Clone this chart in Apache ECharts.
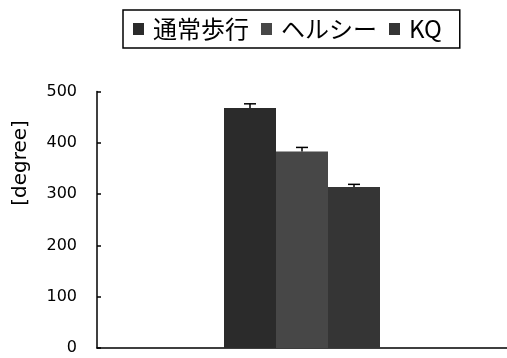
<!DOCTYPE html>
<html>
<head>
<meta charset="utf-8">
<script src="https://cdn.jsdelivr.net/npm/echarts@6/dist/echarts.min.js"></script>
<style>
html,body{margin:0;padding:0;background:#fff;}
#chart{width:507px;height:358px;}
</style>
</head>
<body>
<div id="chart"></div>
<script>
// Walking-mode comparison: mean angle with error bars
const categories = [''];
const seriesNames = ['通常歩行', 'ヘルシー', 'KQ'];
const meanValues = [468, 383, 314];
const errorValues = [8, 8, 5];
const yTicks = [0, 100, 200, 300, 400, 500];
const yName = '[degree]';

const colors = ['#2b2b2b', '#474747', '#353535'];
const BAR_W = 52;

const chart = echarts.init(document.getElementById('chart'));

const barSeries = seriesNames.map((name, i) => ({
  name: name,
  type: 'bar',
  data: [meanValues[i]],
  barWidth: BAR_W,
  barGap: '0%',
  itemStyle: { color: colors[i] },
  silent: true
}));

const errorData = seriesNames.map((_, i) => [0, meanValues[i], errorValues[i], i]);

const errorSeries = {
  type: 'custom',
  data: errorData,
  z: 5,
  silent: true,
  renderItem: function (params, api) {
    const idx = api.value(3);
    const base = api.coord([api.value(0), api.value(1)]);
    const top = api.coord([api.value(0), api.value(1) + api.value(2)]);
    const x = base[0] + (idx - (seriesNames.length - 1) / 2) * BAR_W;
    const capHalf = 6;
    return {
      type: 'group',
      children: [
        { type: 'line', shape: { x1: x, y1: base[1], x2: x, y2: top[1] }, style: { stroke: '#000', lineWidth: 1.5 } },
        { type: 'line', shape: { x1: x - capHalf, y1: top[1], x2: x + capHalf, y2: top[1] }, style: { stroke: '#000', lineWidth: 1.5 } }
      ]
    };
  }
};

chart.setOption({
  animation: false,
  backgroundColor: '#fff',
  grid: { left: 97, right: -4, top: 91.5, bottom: 10 },
  legend: {
    data: seriesNames,
    left: 123,
    top: 10,
    padding: [7, 18, 7, 10],
    itemGap: 12,
    itemWidth: 11,
    itemHeight: 12,
    borderColor: '#000',
    borderWidth: 1.5,
    selectedMode: false,
    icon: 'rect',
    textStyle: {
      fontFamily: 'Noto Sans CJK JP',
      fontSize: 24,
      color: '#000',
      padding: [0, 0, 0, 4]
    }
  },
  xAxis: {
    type: 'category',
    data: categories,
    axisLine: { lineStyle: { color: '#000', width: 1.5 } },
    axisTick: { show: false },
    axisLabel: { show: false }
  },
  yAxis: {
    type: 'value',
    min: yTicks[0],
    max: yTicks[yTicks.length - 1],
    interval: yTicks[1] - yTicks[0],
    splitLine: { show: false },
    axisLine: { show: true, lineStyle: { color: '#000', width: 1.5 } },
    axisTick: { show: true, inside: true, length: 4, lineStyle: { color: '#000', width: 1.5 } },
    axisLabel: {
      margin: 20,
      fontFamily: 'DejaVu Sans',
      fontSize: 16,
      color: '#000'
    }
  },
  graphic: [{
    type: 'text',
    x: 21,
    y: 163,
    rotation: Math.PI / 2,
    style: {
      text: yName,
      fontFamily: 'DejaVu Sans',
      fontSize: 20,
      fill: '#000',
      textAlign: 'center',
      textVerticalAlign: 'middle'
    }
  }],
  series: barSeries.concat([errorSeries])
});
</script>
</body>
</html>
